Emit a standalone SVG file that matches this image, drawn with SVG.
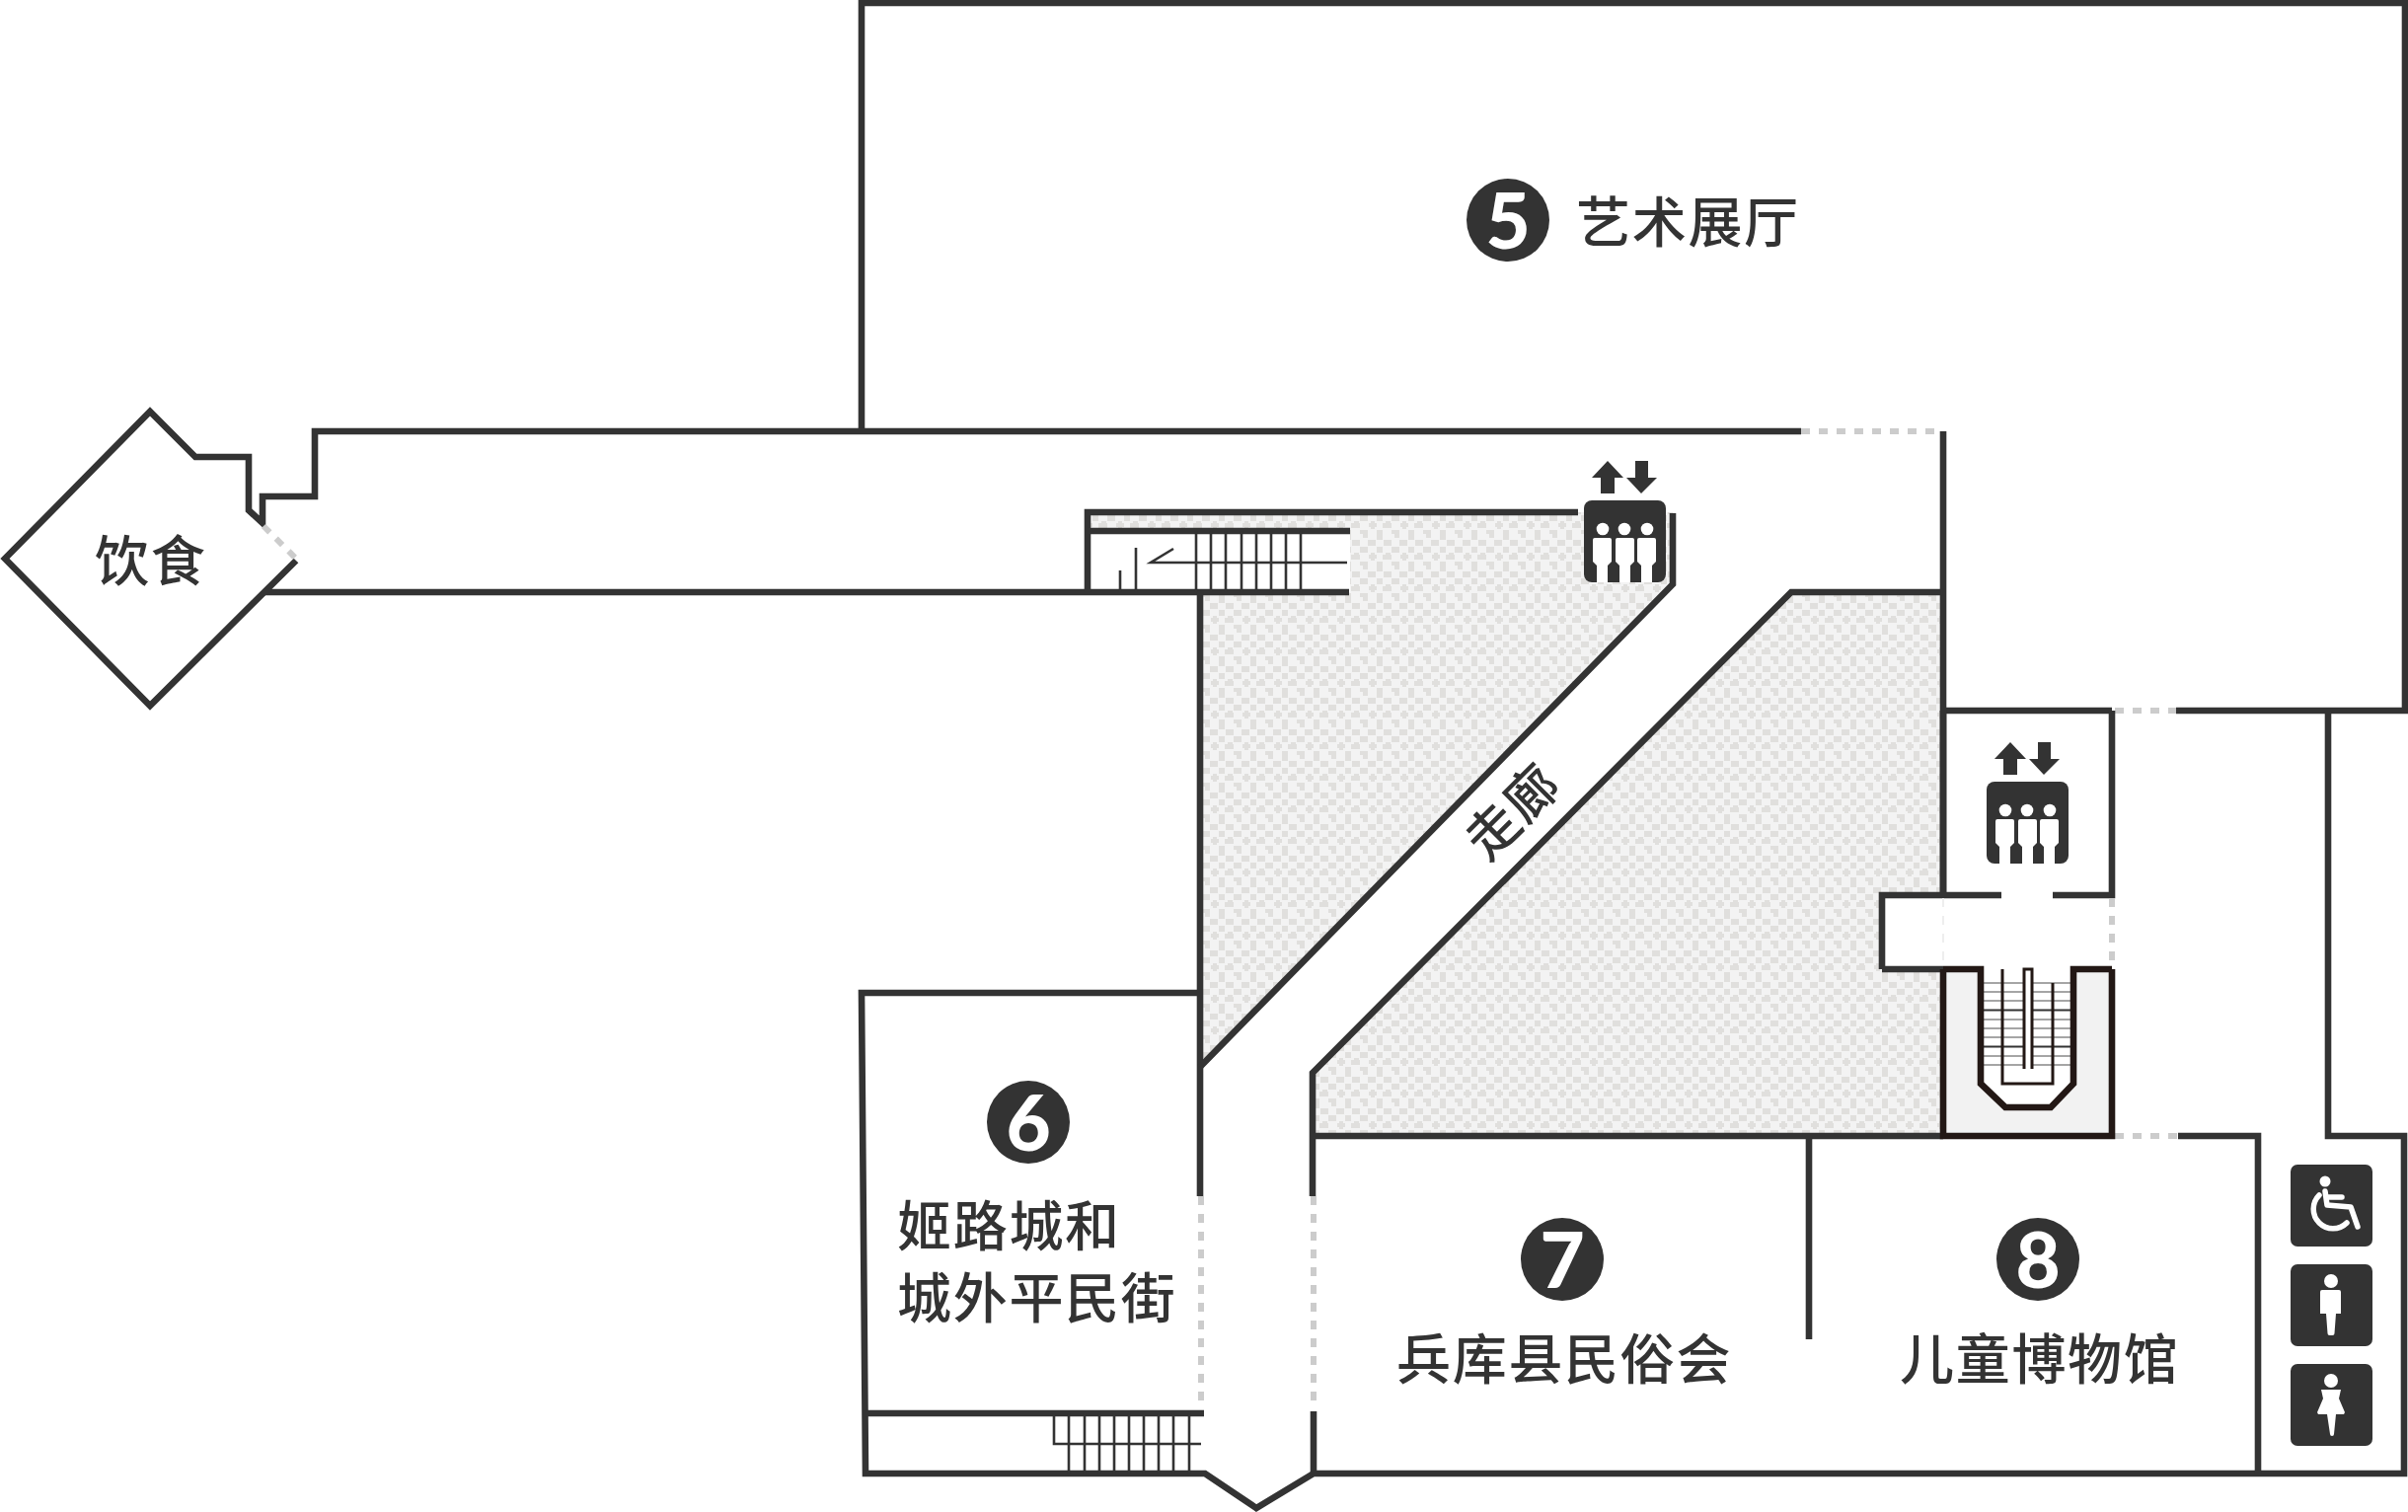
<svg xmlns="http://www.w3.org/2000/svg" width="2440" height="1532" viewBox="0 0 2440 1532">
<style>
.w{fill:none;stroke:#333;stroke-width:6.600;stroke-linejoin:miter;stroke-linecap:butt}
.k{fill:none;stroke:#231815;stroke-width:6.600;stroke-linejoin:miter}
.d{fill:none;stroke:#ccc;stroke-width:6;stroke-dasharray:9 9}
.t{fill:none;stroke:#333;stroke-width:2.600}
.tr{fill:none;stroke:#888;stroke-width:1.600}
.l{font-family:"Noto Sans CJK SC","Noto Sans",sans-serif;font-size:55px;font-weight:500;fill:#333;letter-spacing:1.700px}
.n{font-family:"Lato","Liberation Sans",sans-serif;font-weight:900;font-size:78px;fill:#fff;text-anchor:middle}
.c{fill:#333}
.i{fill:#fff}
</style>
<defs>
<pattern id="hatch" width="32" height="32" patternUnits="userSpaceOnUse" patternTransform="translate(1698 810)">
<rect width="32" height="32" fill="#f3f3f3"/>
<g fill="#e0dfdd" shape-rendering="crispEdges">
<rect x="0" y="0" width="8" height="6"/><rect x="17" y="0" width="6" height="6"/>
<rect x="9" y="8" width="8" height="4"/><rect x="11" y="6" width="4" height="8"/>
<rect x="23" y="8" width="9" height="5"/><rect x="26" y="6" width="5" height="2"/>
<rect x="17" y="15" width="6" height="10"/><path d="M0 15H8V23H3V19H0Z"/>
<rect x="8" y="25" width="8" height="6"/><rect x="24" y="25" width="8" height="6"/>
</g>
</pattern>
<g id="lift">
<path class="c" d="M2037 752l16 17h-9v16h-14v-16h-9zM2065 752h13v17h9l-16 16-15-16h9z"/>
<rect class="c" x="2013" y="792" width="83" height="83" rx="8"/>
<g class="i">
<circle cx="2032" cy="821" r="6.300"/><circle cx="2054" cy="821" r="6.300"/><circle cx="2077" cy="821" r="6.300"/>
<path d="M2024 830h15a2 2 0 0 1 2 2v22l-4 4v17h-11v-17l-4-4v-22a2 2 0 0 1 2-2z"/>
<path d="M2047 830h15a2 2 0 0 1 2 2v22l-4 4v17h-11v-17l-4-4v-22a2 2 0 0 1 2-2z"/>
<path d="M2069 830h15a2 2 0 0 1 2 2v22l-4 4v17h-11v-17l-4-4v-22a2 2 0 0 1 2-2z"/>
</g>
</g>
</defs>

<g id="hatching">
<path fill="url(#hatch)" d="M1102 519H1695V592L1217 1081V600H1368V538H1102Z"/>
<path fill="url(#hatch)" d="M1815 600H1969V1150H1330V1087Z"/>
<path fill="#fff" d="M1907 907H1972V982H1907Z"/>
</g>

<g id="walls">
<path class="w" d="M873 436V3H2437V720H2205"/>
<path class="d" d="M2143 720H2205"/>
<path class="w" d="M2140 720H1969"/>
<path class="w" d="M1825 437H319V503H266V530L252 517V463H198L152 417L5 566L152 715L300 568"/>
<path class="d" d="M267 533L300 566"/>
<path class="w" d="M268 600H1367"/>
<path class="w" d="M1969 437V910"/>
<path class="d" d="M1825 437H1966"/>
<path class="w" d="M1599 519H1102V600"/>
<path class="w" d="M1102 538H1368"/>
<path class="w" d="M1216 600V1212"/>
<path class="w" d="M1695 520V592L1216 1081"/>
<path class="w" d="M1969 600H1815L1330 1087V1212"/>
<path class="d" d="M1217 1212V1428"/>
<path class="d" d="M1331 1212V1425"/>
<path class="w" d="M1331 1430V1493"/>
<path class="w" d="M1216 1006H873L877 1493H1221L1273 1528L1331 1493H2436V1151H2359V720"/>
<path class="w" d="M877 1432H1220"/>
<path class="w" d="M1330 1151H1969"/>
<path class="d" d="M2143 1151H2207"/>
<path class="w" d="M2207 1151H2288V1493"/>
<path class="w" d="M1833 1151V1357"/>
<path class="w" d="M1969 720V907M1907 982V907H2028M2080 907H2140V720"/>
<path class="w" d="M1969 982H1907"/>
<path class="d" d="M2140 910V982"/>
<path fill="none" stroke="#eee" stroke-width="2" stroke-dasharray="9 9" d="M1969 910V982"/>
</g>

<g id="stair-top">
<path class="t" d="M1212 538V600M1227 538V600M1242 538V600M1258 538V600M1273 538V600M1288 538V600M1303 538V600M1318 538V600"/>
<path class="t" d="M1365 570H1166L1189 556M1151 555V600M1135 578V600"/>
</g>
<g id="stair-bottom">
<path class="t" d="M1083 1432V1493M1099 1432V1493M1114 1432V1493M1129 1432V1493M1144 1432V1493M1159 1432V1493M1174 1432V1493M1189 1432V1493M1205 1432V1493"/>
<path class="t" d="M1217 1463H1068V1432"/>
</g>
<g id="stair-right">
<path fill="#f2f2f2" d="M1969 982H2007V1098L2032 1122H2078L2101 1098V982H2140V1151H1969Z"/>
<path class="tr" d="M2010 996H2098M2010 1005H2098M2010 1014H2098M2010 1033H2098M2010 1042H2098M2010 1051H2098M2010 1070H2098M2010 1079H2098"/>
<path fill="none" stroke="#333" stroke-width="1.800" d="M2010 1023.500H2098M2010 1060.500H2098"/>
<path fill="#fff" stroke="#231815" stroke-width="3" d="M2051 1083V982H2059V1083"/>
<path fill="none" stroke="#231815" stroke-width="3" d="M2029 982V1098H2080V996"/>
<path class="k" d="M1969 982V1151H2140V982M1969 982H2007V1098L2032 1122H2078L2101 1098V982H2140"/>
</g>

<g id="lift-a"><use href="#lift" x="-408" y="-285"/></g>
<g id="lift-b"><use href="#lift"/></g>

<g id="icon-wheelchair">
<rect class="c" x="2321" y="1180" width="83" height="83" rx="7"/>
<circle class="i" cx="2356" cy="1197" r="5.500"/>
<path fill="none" stroke="#fff" stroke-width="5.500" stroke-linecap="round" stroke-linejoin="round" d="M2356 1207L2358 1221L2382 1223L2389 1243M2358 1213H2373M2350 1211A19 19 0 1 0 2378 1239"/>
</g>
<g id="icon-man">
<rect class="c" x="2321" y="1281" width="83" height="83" rx="7"/>
<circle class="i" cx="2362" cy="1298" r="7"/>
<path class="i" d="M2353 1307H2370a2 2 0 0 1 2 2V1331H2367L2365.500 1351a2 2 0 0 1-2 2H2360.500a2 2 0 0 1-2-2L2357 1331H2351V1309a2 2 0 0 1 2-2Z"/>
</g>
<g id="icon-woman">
<rect class="c" x="2321" y="1382" width="83" height="83" rx="7"/>
<circle class="i" cx="2362" cy="1399" r="7"/>
<path class="i" d="M2352 1408H2372L2370 1417L2376 1431L2375 1433H2367L2365 1453a2 2 0 0 1-4 0L2358 1433H2349L2348 1431L2354 1417Z"/>
</g>

<g id="room-food"><text class="l" x="96" y="588">饮食</text></g>
<g id="room-5"><circle class="c" cx="1528" cy="223" r="42"/><text class="n" x="1528" y="252">5</text><text class="l" x="1597" y="245">艺术展厅</text></g>
<g id="corridor"><text class="l" transform="translate(1533 822) rotate(-45)" x="-55" y="19" style="font-size:53px">走廊</text></g>
<g id="room-6"><circle class="c" cx="1042" cy="1137" r="42"/><text class="n" x="1042" y="1166">6</text><text class="l" x="909" y="1262">姬路城和</text><text class="l" x="909" y="1335">城外平民街</text></g>
<g id="room-7"><circle class="c" cx="1583" cy="1276" r="42"/><text class="n" x="1583" y="1305">7</text><text class="l" x="1415" y="1397">兵库县民俗会</text></g>
<g id="room-8"><circle class="c" cx="2065" cy="1276" r="42"/><text class="n" x="2065" y="1305">8</text><text class="l" x="1925" y="1397">儿童博物馆</text></g>
</svg>
